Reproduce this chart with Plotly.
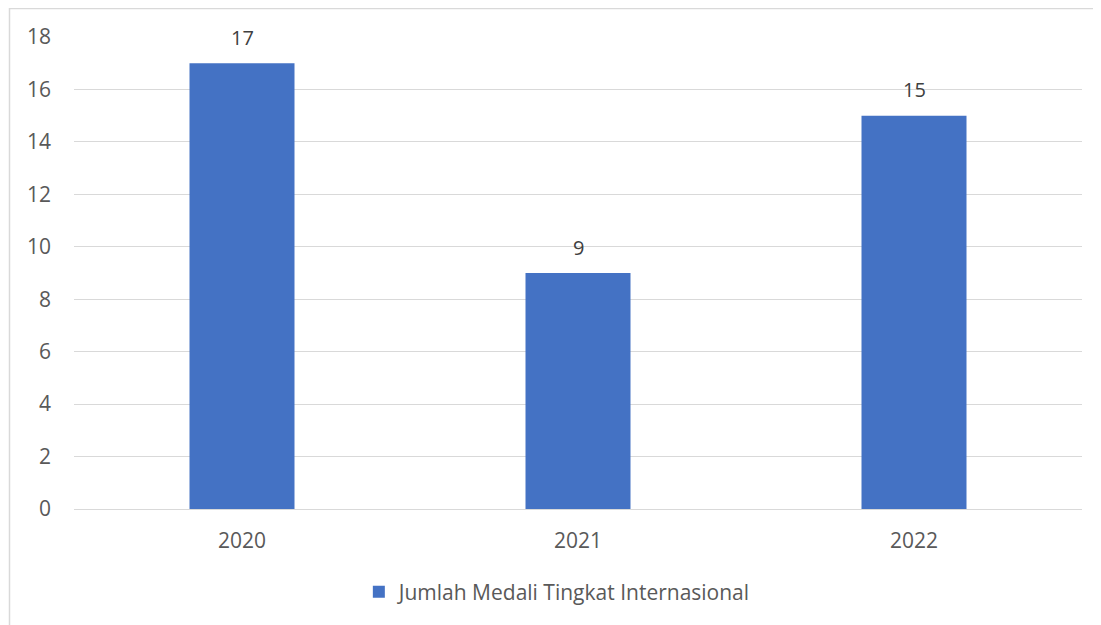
"""
    Bar chart: Jumlah Medali Tingkat Internasional
"""
import plotly.graph_objects as go

years = ['2020', '2021', '2022']
medals = [17, 9, 15]
series_name = 'Jumlah Medali Tingkat Internasional'
y_ticks = [0, 2, 4, 6, 8, 10, 12, 14, 16, 18]

FONT = 'Open Sans'
GRID = '#D9D9D9'
OFF = 8  # page body margin

fig = go.Figure()
fig.add_trace(go.Bar(
    name=series_name, x=years, y=medals,
    marker=dict(color='#4472C4', line=dict(width=0)),
    cliponaxis=False,
))

# data labels above bars (x given as category index, numeric-looking strings
# would otherwise be read as an index too)
for i, val in enumerate(medals):
    fig.add_annotation(x=i, y=val, text=str(val), showarrow=False,
                       yanchor='middle', yshift=26,
                       font=dict(family=FONT, size=20, color='#404040'))

# pixel-based plot area in screenshot coords: x 74..1082, y 37..509
pl, pr, pt, pb = 74 - OFF, 1082 - OFF, 37 - OFF, 509 - OFF
pw, ph = pr - pl, pb - pt


def px_x(v):
    return (v - OFF - pl) / pw


def px_y(v):
    return (pb - (v - OFF)) / ph


fig.update_layout(
    width=1101, height=625,
    margin=dict(l=pl, r=1101 - pr, t=pt, b=625 - pb, pad=0),
    paper_bgcolor='white', plot_bgcolor='white',
    bargap=0.6875,
    showlegend=True,
    legend=dict(orientation='h', x=0.48, xanchor='center', y=px_y(592), yanchor='middle',
                itemwidth=30,
                font=dict(family=FONT, size=21, color='#595959')),
    font=dict(family=FONT, size=21, color='#595959'),
    xaxis=dict(type='category', range=[-0.5, 2.5], showgrid=False, showline=False,
               ticks='outside', ticklen=0,
               ticklabelstandoff=13, tickfont=dict(family=FONT, size=21, color='#595959')),
    yaxis=dict(range=[0, 18], tickvals=y_ticks, showgrid=True, gridcolor=GRID, gridwidth=1,
               zeroline=True, zerolinecolor=GRID, zerolinewidth=1, showline=False,
               ticklabelstandoff=22, tickfont=dict(family=FONT, size=21, color='#595959')),
    shapes=[dict(type='rect', xref='paper', yref='paper',
                 x0=px_x(9.5), x1=px_x(1098.5), y0=px_y(660), y1=px_y(8.5),
                 line=dict(color=GRID, width=1.5), fillcolor='rgba(0,0,0,0)', layer='below')],
)

fig.write_html("out.html")
